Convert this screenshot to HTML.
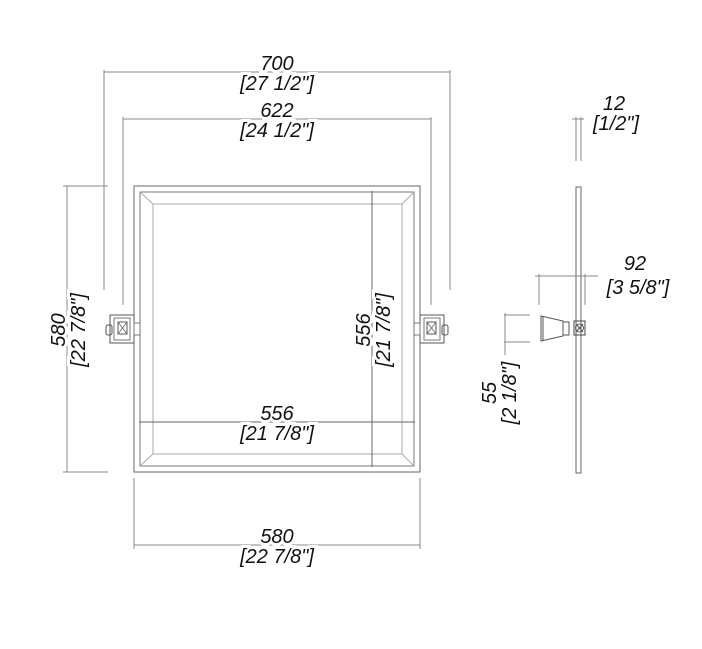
<!DOCTYPE html>
<html><head><meta charset="utf-8"><style>
html,body{margin:0;padding:0;background:#fff;}
svg{display:block;}
text{font-family:"Liberation Sans",sans-serif;font-style:italic;font-size:20px;fill:#111;text-anchor:middle;paint-order:stroke;stroke:#fff;stroke-width:6px;}
</style></head><body>
<svg width="702" height="649" viewBox="0 0 702 649" xmlns="http://www.w3.org/2000/svg">
<g stroke="#888" stroke-width="1" fill="none">
<line x1="104" y1="72" x2="450" y2="72"/>
<line x1="104" y1="70" x2="104" y2="290"/>
<line x1="450" y1="70" x2="450" y2="290"/>
<line x1="123" y1="119" x2="431" y2="119"/>
<line x1="123" y1="117" x2="123" y2="305"/>
<line x1="431" y1="117" x2="431" y2="305"/>
<line x1="67" y1="186" x2="67" y2="472"/>
<line x1="63" y1="186" x2="108" y2="186"/>
<line x1="63" y1="472" x2="108" y2="472"/>
<line x1="134" y1="545" x2="420" y2="545"/>
<line x1="134" y1="478" x2="134" y2="549"/>
<line x1="420" y1="478" x2="420" y2="549"/>
<rect x="134" y="186" width="286" height="286" stroke="#666"/>
<rect x="140" y="192" width="274" height="274" stroke="#777"/>
<rect x="153" y="204" width="249" height="250" stroke="#aaa"/>
<line x1="140" y1="192" x2="153" y2="204" stroke="#aaa"/>
<line x1="414" y1="192" x2="402" y2="204" stroke="#aaa"/>
<line x1="140" y1="466" x2="153" y2="454" stroke="#aaa"/>
<line x1="414" y1="466" x2="402" y2="454" stroke="#aaa"/>
<line x1="372" y1="191" x2="372" y2="467" stroke="#666"/>
<line x1="139" y1="422" x2="415" y2="422" stroke="#666"/>
<rect x="110" y="315" width="24" height="28" stroke="#555"/>
<rect x="114" y="318" width="16" height="22" stroke="#777"/>
<rect x="118" y="322" width="9" height="12" stroke="#555"/>
<line x1="118" y1="322" x2="127" y2="334" stroke="#777"/><line x1="127" y1="322" x2="118" y2="334" stroke="#777"/>
<rect x="106" y="325" width="6" height="10" rx="2" stroke="#555"/>
<rect x="134" y="323" width="6" height="12" stroke="#777"/>
<rect x="420" y="315" width="24" height="28" stroke="#555"/>
<rect x="424" y="318" width="16" height="22" stroke="#777"/>
<rect x="427" y="322" width="9" height="12" stroke="#555"/>
<line x1="427" y1="322" x2="436" y2="334" stroke="#777"/><line x1="436" y1="322" x2="427" y2="334" stroke="#777"/>
<rect x="442" y="325" width="6" height="10" rx="2" stroke="#555"/>
<rect x="414" y="323" width="6" height="12" stroke="#777"/>
<rect x="576" y="187" width="5" height="286" stroke="#666"/>
<line x1="576" y1="117" x2="576" y2="161"/>
<line x1="581" y1="117" x2="581" y2="161"/>
<line x1="572" y1="119" x2="584" y2="119"/>
<line x1="535" y1="276" x2="598" y2="276"/>
<line x1="539" y1="274" x2="539" y2="305"/>
<line x1="585" y1="274" x2="585" y2="305"/>
<line x1="504" y1="315" x2="530" y2="315"/>
<line x1="504" y1="342" x2="530" y2="342"/>
<line x1="505" y1="313" x2="505" y2="355"/>
<path d="M541 316 L563 321 L563 336 L541 341 Z" stroke="#555"/>
<line x1="543" y1="316" x2="543" y2="341" stroke="#555"/>
<rect x="563" y="322" width="6" height="13" stroke="#555"/>
<rect x="574" y="321" width="11" height="14" stroke="#444"/>
<circle cx="579.5" cy="328" r="4" stroke="#555"/>
<line x1="576" y1="324" x2="583" y2="332" stroke="#555"/><line x1="583" y1="324" x2="576" y2="332" stroke="#555"/>
</g>
<text x="277" y="70">700</text>
<text x="277" y="90">[27 1/2"]</text>
<text x="277" y="117">622</text>
<text x="277" y="137">[24 1/2"]</text>
<text x="277" y="420">556</text>
<text x="277" y="440">[21 7/8"]</text>
<text x="277" y="543">580</text>
<text x="277" y="563">[22 7/8"]</text>
<text transform="translate(65,330) rotate(-90)">580</text>
<text transform="translate(85,330) rotate(-90)">[22 7/8"]</text>
<text transform="translate(370,330) rotate(-90)">556</text>
<text transform="translate(390,330) rotate(-90)">[21 7/8"]</text>
<text transform="translate(496,393) rotate(-90)">55</text>
<text transform="translate(516,393) rotate(-90)">[2 1/8"]</text>
<text x="614" y="110">12</text>
<text x="616" y="130">[1/2"]</text>
<text x="635" y="270">92</text>
<text x="638" y="294">[3 5/8"]</text>
</svg>
</body></html>
